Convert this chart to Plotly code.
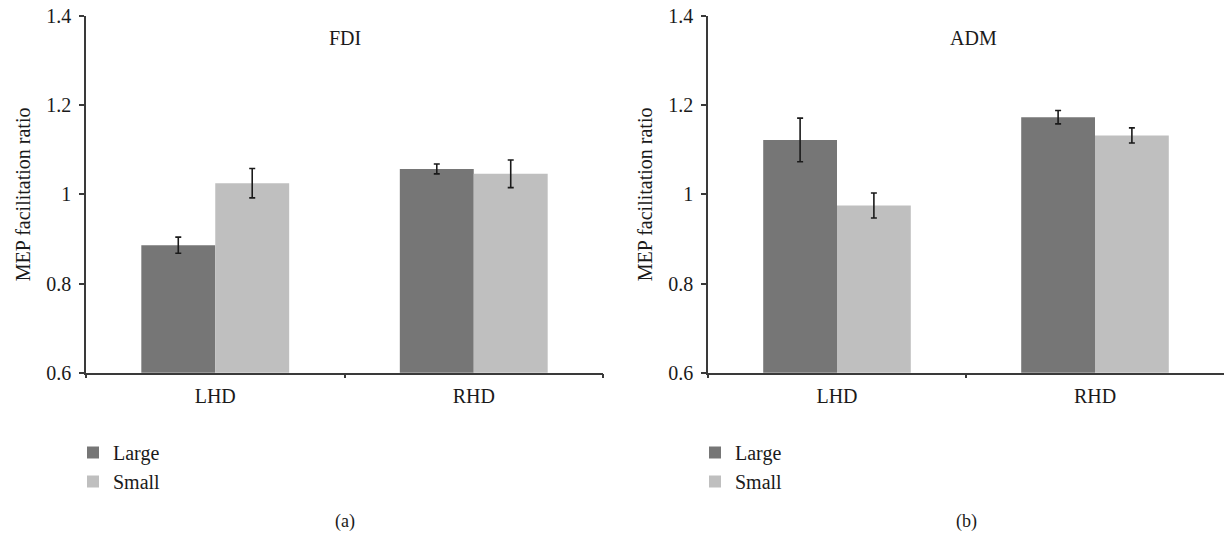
import plotly.graph_objects as go

categories = ["LHD", "RHD"]
fdi_large = [0.886, 1.057]
fdi_large_err = [0.018, 0.011]
fdi_small = [1.025, 1.046]
fdi_small_err = [0.033, 0.031]
adm_large = [1.122, 1.173]
adm_large_err = [0.049, 0.015]
adm_small = [0.975, 1.132]
adm_small_err = [0.028, 0.017]
y_ticks = [0.6, 0.8, 1.0, 1.2, 1.4]
y_tick_labels = ["0.6", "0.8", "1", "1.2", "1.4"]

DARK = "#767676"
LIGHT = "#bfbfbf"
FONT = "Liberation Serif"
TXT = "#1a1a1a"
W, H = 1225, 533

fig = go.Figure()

def err(vals):
    return dict(type="data", array=vals, visible=True, color=TXT, thickness=1.6, width=3)

fig.add_trace(go.Bar(x=categories, y=fdi_large, error_y=err(fdi_large_err), name="Large",
                     marker=dict(color=DARK, line=dict(width=0)), xaxis="x", yaxis="y", legend="legend"))
fig.add_trace(go.Bar(x=categories, y=fdi_small, error_y=err(fdi_small_err), name="Small",
                     marker=dict(color=LIGHT, line=dict(width=0)), xaxis="x", yaxis="y", legend="legend"))
fig.add_trace(go.Bar(x=categories, y=adm_large, error_y=err(adm_large_err), name="Large",
                     marker=dict(color=DARK, line=dict(width=0)), xaxis="x2", yaxis="y2", legend="legend2"))
fig.add_trace(go.Bar(x=categories, y=adm_small, error_y=err(adm_small_err), name="Small",
                     marker=dict(color=LIGHT, line=dict(width=0)), xaxis="x2", yaxis="y2", legend="legend2"))

ydom = [1 - 372.7 / H, 1 - 16 / H]
xd1 = [86 / W, 603 / W]
xd2 = [708 / W, 1224 / W]

xcommon = dict(type="category", showline=True, linecolor="#3a3a3a", linewidth=1.5,
               ticks="outside", ticklen=4, tickcolor="#3a3a3a", tickwidth=1.5,
               tickson="boundaries", showgrid=False, zeroline=False, ticklabelstandoff=5,
               tickfont=dict(family=FONT, size=20, color=TXT), automargin=False,
               range=[-0.5, 1.5], fixedrange=True)
ycommon = dict(range=[0.6, 1.4], tickvals=y_ticks, ticktext=y_tick_labels,
               showline=True, linecolor="#3a3a3a", linewidth=1.5,
               ticks="outside", ticklen=5, tickcolor="#3a3a3a", tickwidth=1.5,
               showgrid=False, zeroline=False, ticklabelstandoff=4,
               tickfont=dict(family=FONT, size=20, color=TXT), automargin=False,
               title=dict(text="MEP facilitation ratio", font=dict(family=FONT, size=20, color=TXT), standoff=10))

legcommon = dict(font=dict(family=FONT, size=20, color=TXT), bgcolor="rgba(0,0,0,0)",
                 orientation="v", tracegroupgap=0, itemwidth=30, xanchor="left", yanchor="top")

fig.update_layout(
    width=W, height=H,
    margin=dict(l=0, r=0, t=0, b=0),
    paper_bgcolor="white", plot_bgcolor="white",
    barmode="group", bargap=0.428, bargroupgap=0,
    xaxis=dict(domain=xd1, anchor="y", **xcommon),
    yaxis=dict(domain=ydom, anchor="x", **ycommon),
    xaxis2=dict(domain=xd2, anchor="y2", **xcommon),
    yaxis2=dict(domain=ydom, anchor="x2", **ycommon),
    legend=dict(x=73 / W, y=1 - 433 / H, **legcommon),
    legend2=dict(x=695 / W, y=1 - 433 / H, **legcommon),
    annotations=[
        dict(text="FDI", x=0.5, y=1 - 38 / H, xref="x domain", yref="paper", showarrow=False,
             xanchor="center", yanchor="middle", font=dict(family=FONT, size=20, color=TXT)),
        dict(text="ADM", x=0.515, y=1 - 38 / H, xref="x2 domain", yref="paper", showarrow=False,
             xanchor="center", yanchor="middle", font=dict(family=FONT, size=20, color=TXT)),
        dict(text="(a)", x=0.5, y=1 - 521 / H, xref="x domain", yref="paper", showarrow=False,
             xanchor="center", yanchor="middle", font=dict(family=FONT, size=18, color=TXT)),
        dict(text="(b)", x=0.5, y=1 - 521 / H, xref="x2 domain", yref="paper", showarrow=False,
             xanchor="center", yanchor="middle", font=dict(family=FONT, size=18, color=TXT)),
    ],
)

fig.write_html("out.html", config={"displayModeBar": False},
               post_script="document.body.style.margin='0';document.body.style.overflow='hidden';")
